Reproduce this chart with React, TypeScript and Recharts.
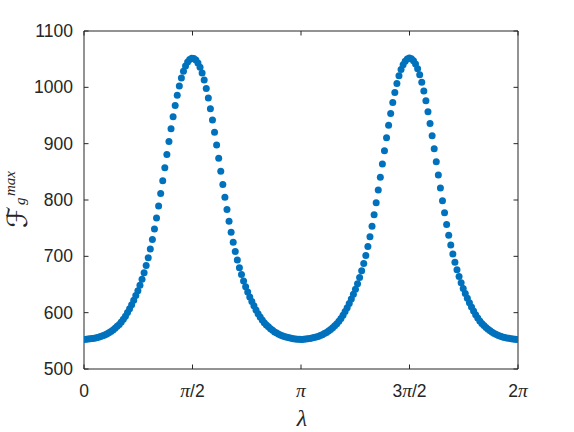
import React from 'react';
import { ScatterChart, Scatter, XAxis, YAxis, ReferenceArea } from 'recharts';

// lambda sampled from 0 with a fixed step
const lambdaStep = 0.03;

// F_g^max, one value per sample
const fgMax = [
  552.5, 552.7, 553.1, 553.5, 554.1, 554.7, 555.5, 556.4, 557.6, 559.0,
  560.5, 562.3, 564.3, 566.6, 569.4, 572.4, 575.7, 579.2, 583.4, 588.2,
  593.8, 600.1, 606.9, 614.2, 622.0, 630.3, 639.1, 648.7, 659.3, 671.0,
  683.6, 697.5, 712.9, 729.8, 748.3, 768.2, 789.3, 811.4, 834.2, 857.4,
  880.9, 904.0, 926.3, 947.6, 967.7, 985.8, 1002.3, 1016.7, 1028.6, 1037.9,
  1044.8, 1049.2, 1051.5, 1051.0, 1048.3, 1043.2, 1035.6, 1025.5, 1013.0, 997.9,
  981.0, 962.2, 941.8, 920.2, 897.6, 874.3, 850.9, 827.7, 805.1, 783.3,
  762.5, 742.9, 725.0, 708.5, 693.4, 679.9, 667.6, 656.3, 645.9, 636.5,
  627.9, 619.8, 612.1, 604.9, 598.2, 592.1, 586.8, 582.1, 578.3, 574.8,
  571.6, 568.6, 565.9, 563.7, 561.7, 560.0, 558.5, 557.2, 556.2, 555.3,
  554.6, 553.9, 553.4, 552.9, 552.6, 552.5, 552.8, 553.2, 553.7, 554.3,
  554.9, 555.7, 556.7, 557.9, 559.4, 560.9, 562.8, 564.8, 567.3, 570.3,
  573.3, 576.7, 580.2, 584.6, 589.6, 595.4, 601.9, 608.8, 616.3, 624.3,
  632.6, 641.6, 651.5, 662.4, 674.3, 687.2, 701.5, 717.4, 734.7, 753.6,
  774.0, 795.3, 817.7, 840.6, 864.0, 887.4, 910.5, 932.5, 953.5, 973.1,
  990.7, 1006.8, 1020.5, 1031.6, 1040.3, 1046.5, 1050.2, 1051.9, 1050.6, 1047.3,
  1041.5, 1033.2, 1022.5, 1009.2, 993.4, 976.1, 956.8, 935.9, 914.1, 891.1,
  867.8, 844.3, 821.3, 798.8, 777.3, 756.7, 737.6, 720.1, 704.0, 689.4,
  676.3, 664.3, 653.2, 643.1, 634.0, 625.6, 617.5, 610.0, 603.0, 596.4,
  590.5, 585.4, 580.9, 577.3, 573.8, 570.7, 567.7, 565.2, 563.2, 561.2,
  559.6, 558.1, 556.9, 555.9, 555.1, 554.4, 553.8, 553.2, 552.8, 552.5,
];

const xTickValues = [0, Math.PI / 2, Math.PI, (3 * Math.PI) / 2, 2 * Math.PI];
const xTickLabels = ['0', 'π/2', 'π', '3π/2', '2π'];
const yTickValues = [500, 600, 700, 800, 900, 1000, 1100];

const points = fgMax.map((v, i) => ({ x: i * lambdaStep, y: v }));

const W = 574;
const H = 432;
const PLOT = { left: 84, right: 518, top: 31, bottom: 369 };
const INK = '#262626';
const SANS = 'Liberation Sans, Arial, Helvetica, sans-serif';
const SERIF = 'Liberation Serif, Times New Roman, serif';
const TICK = 4.5;

// digits in sans, pi in italic serif like the TeX interpreter does
const mixed = (label: string) =>
  label.split('').map((ch, k) =>
    ch === 'π' ? (
      <tspan key={k} fontFamily={SERIF} fontStyle="italic" fontSize={19.5}>π</tspan>
    ) : (
      <tspan key={k} fontFamily={SANS}>{ch}</tspan>
    )
  );

const XTick: React.FC<any> = ({ x, payload }) => {
  let idx = xTickValues.indexOf(payload.value);
  if (idx < 0) idx = payload.index ?? 0;
  return (
    <g>
      <line x1={x} x2={x} y1={PLOT.bottom} y2={PLOT.bottom - TICK} stroke={INK} />
      <line x1={x} x2={x} y1={PLOT.top} y2={PLOT.top + TICK} stroke={INK} />
      <text x={x} y={397} textAnchor="middle" fontSize={17.5} fill={INK}>
        {mixed(xTickLabels[idx])}
      </text>
    </g>
  );
};

const YTick: React.FC<any> = ({ y, payload }) => (
  <g>
    <line x1={PLOT.left} x2={PLOT.left + TICK} y1={y} y2={y} stroke={INK} />
    <line x1={PLOT.right} x2={PLOT.right - TICK} y1={y} y2={y} stroke={INK} />
    <text x={73} y={y + 6} textAnchor="end" fontSize={17.5} fontFamily={SANS} fill={INK}>
      {payload.value}
    </text>
  </g>
);

const Dot: React.FC<any> = ({ cx, cy }) => (
  <circle cx={cx} cy={cy} r={3.5} fill="#0072BD" />
);

const App: React.FC = () => {
  return (
    <div style={{ position: 'absolute', left: 0, top: 0, width: W, height: H, background: '#fff' }}>
      <ScatterChart
        width={W}
        height={H}
        margin={{ top: PLOT.top, right: W - PLOT.right, bottom: 0, left: 0 }}
      >
        <XAxis
          type="number"
          dataKey="x"
          domain={[0, 2 * Math.PI]}
          ticks={xTickValues}
          interval={0}
          height={H - PLOT.bottom}
          axisLine={false}
          tickLine={false}
          tick={<XTick />}
          allowDataOverflow
        />
        <YAxis
          type="number"
          dataKey="y"
          domain={[500, 1100]}
          ticks={yTickValues}
          interval={0}
          width={PLOT.left}
          axisLine={false}
          tickLine={false}
          tick={<YTick />}
          allowDataOverflow
        />
        <ReferenceArea
          x1={0}
          x2={2 * Math.PI}
          y1={500}
          y2={1100}
          fill="none"
          fillOpacity={0}
          stroke={INK}
          strokeWidth={1}
        />
        <Scatter data={points} shape={<Dot />} isAnimationActive={false} />
      </ScatterChart>
      <svg
        width={W}
        height={H}
        style={{ position: 'absolute', left: 0, top: 0, pointerEvents: 'none' }}
      >
        <g transform="translate(27,200) rotate(-90)" fill={INK} fontFamily={SERIF} fontStyle="italic">
          <text x={-28} y={0} fontSize={28} fontFamily="DejaVu Serif, DejaVu Sans, serif" fontStyle="normal">ℱ</text>
          <text x={-5} y={-2} fontSize={15}>g</text>
          <text x={4} y={-12} fontSize={15}>max</text>
        </g>
        <text x={302} y={426} textAnchor="middle" fontSize={24} fontFamily={SERIF} fontStyle="italic" fill={INK}>
          λ
        </text>
      </svg>
    </div>
  );
};

export default App;
